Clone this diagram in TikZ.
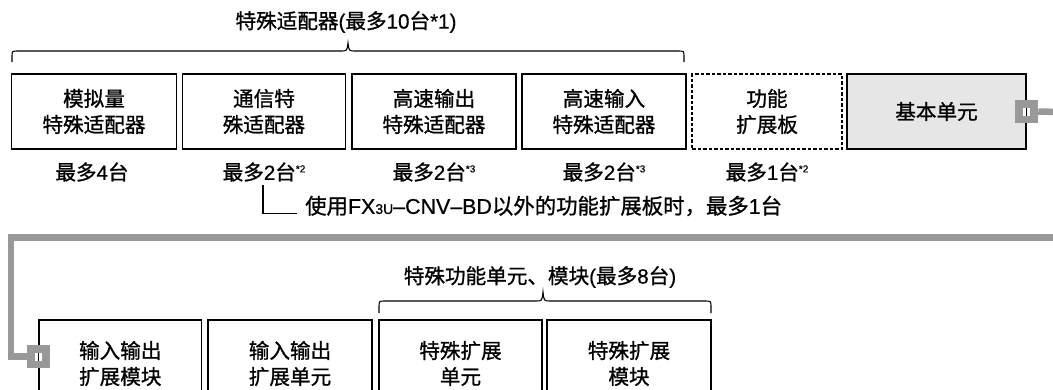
\documentclass[tikz,border=0pt]{standalone}
\usepackage{fontspec}
\setmainfont{Noto Sans CJK SC}[RawFeature={embolden=1.0}]
\newfontfamily\latin{Liberation Sans}[RawFeature={embolden=0.6}]
\definecolor{conn}{RGB}{153,153,153}
\definecolor{basefill}{RGB}{230,230,230}
\newcommand\fs{\fontsize{20.6}{26}\selectfont}
\newcommand\footmark[1]{\raisebox{7.5pt}{\latin\fontsize{10}{10}\selectfont *#1}}
\newcommand\lt[1]{{\latin #1}}
\begin{document}
\begin{tikzpicture}[x=1pt,y=-1pt,
  unitbox/.style={draw, line width=1.1pt, align=center, inner sep=0pt, font=\fs, minimum height=75pt},
  lowbox/.style={draw, line width=1.1pt, align=center, inner sep=0pt, font=\fs, minimum height=87pt},
  lab/.style={font=\fs, inner sep=3pt},
  plug/.style={fill=conn, minimum size=23pt, inner sep=0pt},
  cable/.style={draw=conn, line width=6.5pt, line join=miter},
  bracket/.style={line width=1.1pt}
]
\clip (0,0) rectangle (1053,389);
\fill[white] (0,0) rectangle (1053,389);

% title and brace
\node[font=\fs] (title) at (346,22) {特殊适配器\lt{(}最多\lt{10}台\lt{*1)}};
\draw[bracket] (12,62) -- (12,57) .. controls (12,51) .. (18,51) -- (341,51)
  .. controls (347,51) .. (348,43) .. controls (349,51) .. (355,51) -- (678,51)
  .. controls (684,51) .. (684,57) -- (684,62);

% top row
\node[unitbox, minimum width=165pt] (a1) at (94,111.5) {模拟量\\特殊适配器};
\node[unitbox, minimum width=163.5pt] (a2) at (264,111.5) {通信特\\殊适配器};
\node[unitbox, minimum width=164pt] (a3) at (434,111.5) {高速输出\\特殊适配器};
\node[unitbox, minimum width=164pt] (a4) at (604,111.5) {高速输入\\特殊适配器};
\node[unitbox, minimum width=150pt, dashed, dash pattern=on 3.5pt off 2pt] (a5) at (767,111.5) {功能\\扩展板};
\node[unitbox, minimum width=179pt, fill=basefill] (a6) at (936.5,111.5) {基本单元};

% counts
\node[lab] (l1) at (92,172) {最多\lt{4}台};
\node[lab] (l2) at (264,172) {最多\lt{2}台\footmark{2}};
\node[lab] (l3) at (434,172) {最多\lt{2}台\footmark{3}};
\node[lab] (l4) at (604,172) {最多\lt{2}台\footmark{3}};
\node[lab] (l5) at (767,172) {最多\lt{1}台\footmark{2}};

% note
\node[font=\fontsize{21.4}{26}\selectfont, anchor=west, inner sep=0pt] (note) at (305,206) {使用\lt{FX{\fontsize{14}{14}\selectfont 3U}–CNV–BD}以外的功能扩展板时，最多\lt{1}台};
\draw[line width=1.1pt] ([xshift=-1pt]l2.south) |- ([xshift=-8pt]note.base west);

% connector on base unit
\node[plug] (p1) at (a6.east) {};
\fill[white] ([xshift=-3.5pt,yshift=-4pt]p1.center) rectangle ([xshift=3.5pt,yshift=4pt]p1.center);
\draw[line width=1.1pt] ([yshift=-4pt]p1.center) -- ([yshift=4pt]p1.center);
\coordinate (r1) at (1060,112);
\draw[cable] (p1.east) -- (r1);

% bottom row
\node[lowbox, minimum width=162.5pt] (b1) at (120.25,363.5) {输入输出\\扩展模块};
\node[lowbox, minimum width=164pt] (b2) at (290,363.5) {输入输出\\扩展单元};
\node[lowbox, minimum width=163pt] (b3) at (460.5,363.5) {特殊扩展\\单元};
\node[lowbox, minimum width=164pt] (b4) at (629,363.5) {特殊扩展\\模块};

% second brace
\node[font=\fs] (title2) at (540,277) {特殊功能单元、模块\lt{(}最多\lt{8}台\lt{)}};
\draw[bracket] (379,313) -- (379,307) .. controls (379,301) .. (385,301) -- (536,301)
  .. controls (542,301) .. (543,292) .. controls (544,301) .. (550,301) -- (705,301)
  .. controls (711,301) .. (711,307) -- (711,313);

% connector on bottom-left module
\node[plug] (p2) at ([yshift=7pt]b1.west) {};
\fill[white] ([xshift=-3.5pt,yshift=-4pt]p2.center) rectangle ([xshift=3.5pt,yshift=4pt]p2.center);
\draw[line width=1.1pt] ([yshift=-4pt]p2.center) -- ([yshift=4pt]p2.center);
\coordinate (r2) at (1060,237.5);
\draw[cable] (r2) -| ([xshift=-16pt]p2.west) -- (p2.west);
\end{tikzpicture}
\end{document}
